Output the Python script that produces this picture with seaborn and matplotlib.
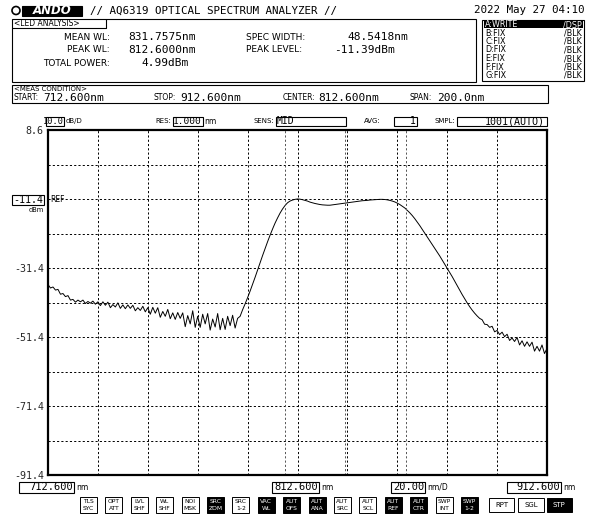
import numpy as np
import pandas as pd
import seaborn as sns
import matplotlib
matplotlib.use('Agg')
import matplotlib.pyplot as plt
from matplotlib.patches import Rectangle, Circle

# Sweep settings of the analyzer
START_WL = 712.6
STOP_WL = 912.6

# Trace A at ~1 nm steps (dBm)
levels = [
    -36.2, -37.2, -36.9, -37.8, -37.6, -39.0, -38.8, -39.7, -39.4, -40.7,
    -40.5, -41.3, -40.7, -41.2, -40.7, -41.7, -41.1, -41.6, -41.0, -41.9,
    -41.2, -42.3, -41.2, -42.2, -41.3, -42.9, -42.0, -42.7, -41.5, -43.1,
    -42.1, -43.2, -42.1, -43.1, -42.2, -43.8, -42.9, -43.7, -42.5, -44.1,
    -42.9, -44.8, -42.8, -44.5, -42.9, -45.7, -44.0, -45.4, -43.4, -46.1,
    -44.4, -46.3, -44.3, -46.0, -44.4, -48.4, -45.2, -47.6, -43.8, -48.6,
    -45.4, -48.6, -44.8, -47.6, -44.6, -49.4, -46.2, -48.5, -44.6, -49.3,
    -46.0, -49.2, -45.4, -48.1, -45.1, -48.8, -46.0, -45.4, -43.5, -41.8,
    -40.0, -38.1, -36.1, -34.1, -32.0, -29.9, -27.8, -25.8, -23.8, -21.9,
    -20.1, -18.4, -16.9, -15.5, -14.3, -13.3, -12.5, -12.0, -11.7, -11.5,
    -11.39, -11.45, -11.6, -11.8, -12.0, -12.3, -12.5, -12.7, -12.85, -13.0,
    -13.1, -13.15, -13.2, -13.2, -13.1, -13.0, -12.9, -12.8, -12.7, -12.6,
    -12.5, -12.4, -12.3, -12.2, -12.1, -12.0, -11.9, -11.85, -11.8, -11.7,
    -11.65, -11.6, -11.55, -11.5, -11.5, -11.55, -11.65, -11.8, -12.0, -12.25,
    -12.6, -13.0, -13.5, -14.0, -14.7, -15.4, -16.2, -17.1, -18.1, -19.1,
    -20.2, -21.3, -22.4, -23.5, -24.6, -25.7, -26.8, -27.9, -29.1, -30.3,
    -31.5, -32.7, -33.9, -35.2, -36.5, -37.8, -39.1, -40.3, -41.5, -42.6,
    -43.6, -44.5, -45.3, -46.0, -46.4, -47.7, -47.8, -48.6, -48.3, -49.9,
    -49.5, -50.7, -50.0, -51.3, -50.6, -52.4, -51.7, -52.7, -51.5, -53.7,
    -52.5, -54.1, -52.8, -54.1, -52.9, -55.5, -54.1, -55.5, -53.7, -56.2,
    -54.7,
]
wavelengths = np.linspace(START_WL, STOP_WL, len(levels))

# LED analysis markers: mean WL and mean +/- half spectral width
marker_wl = [807.49, 831.76, 856.03]

x_grid = [712.6, 732.6, 752.6, 772.6, 792.6, 812.6, 832.6, 852.6, 872.6, 892.6, 912.6]
y_grid = [8.6, -1.4, -11.4, -21.4, -31.4, -41.4, -51.4, -61.4, -71.4, -81.4, -91.4]
y_labels = ['8.6', '', '', '', '-31.4', '', '-51.4', '', '-71.4', '', '-91.4']

analysis_labels = ['MEAN WL:', 'PEAK WL:', 'TOTAL POWER:']
analysis_values = ['831.7575nm', '812.6000nm', '4.99dBm']
width_labels = ['SPEC WIDTH:', 'PEAK LEVEL:']
width_values = ['48.5418nm', '-11.39dBm']

trace_names = ['A:WRITE', 'B:FIX', 'C:FIX', 'D:FIX', 'E:FIX', 'F:FIX', 'G:FIX']
trace_modes = ['/DSP', '/BLK', '/BLK', '/BLK', '/BLK', '/BLK', '/BLK']

soft_keys = [('TLS', 'SYC'), ('OPT', 'ATT'), ('LVL', 'SHF'), ('WL', 'SHF'), ('NOI', 'MSK'),
             ('SRC', 'ZOM'), ('SRC', '1-2'), ('VAC', 'WL'), ('AUT', 'OFS'), ('AUT', 'ANA'),
             ('AUT', 'SRC'), ('AUT', 'SCL'), ('AUT', 'REF'), ('AUT', 'CTR'), ('SWP', 'INT'),
             ('SWP', '1-2')]
soft_on = [False, False, False, False, False, True, False, True, True, True,
           False, False, True, True, False, True]

MONO = 'DejaVu Sans Mono'
SANS = 'DejaVu Sans'
W, H = 612, 523

sns.set_theme(style='white')
plt.rcParams['font.family'] = [SANS]

fig = plt.figure(figsize=(W / 100, H / 100), dpi=100)
fig.patch.set_facecolor('white')

# plot area in screen pixels
L, R, T, B = 48, 547, 130, 475
ax = fig.add_axes([L / W, 1 - B / H, (R - L) / W, (B - T) / H])
df = pd.DataFrame({'wl': wavelengths, 'dbm': levels})
sns.lineplot(data=df, x='wl', y='dbm', ax=ax, color='black', lw=0.7, sort=False)
ax.set_xlim(START_WL, STOP_WL)
ax.set_ylim(y_grid[-1], y_grid[0])
ax.set_xticks(x_grid)
ax.set_yticks(y_grid)
ax.set_xticklabels([])
ax.set_yticklabels(y_labels, family=MONO, fontsize=7.2)
ax.tick_params(length=0, pad=3)
ax.set_xlabel('')
ax.set_ylabel('')
ax.grid(True, color='black', ls=(0, (2.2, 2.2)), lw=0.7)
for wl in marker_wl:
    ax.axvline(wl, color='#555555', ls=(0, (2.2, 2.2)), lw=0.7)
for s in ax.spines.values():
    s.set_color('black')
    s.set_linewidth(1.6)

# overlay in screen pixels for the instrument panels
ov = fig.add_axes([0, 0, 1, 1], zorder=5)
ov.set_xlim(0, W)
ov.set_ylim(H, 0)
ov.axis('off')
ov.patch.set_alpha(0)


def box(x0, y0, x1, y1, face='white', lw=0.8):
    ov.add_patch(Rectangle((x0, y0), x1 - x0, y1 - y0, facecolor=face, edgecolor='black', lw=lw))


def txt(x, y, s, ha='left', size=6.5, family=SANS, color='black', **kw):
    ov.text(x, y, s, ha=ha, va='center', fontsize=size, family=family, color=color, **kw)


# header
ov.add_patch(Circle((16, 10.5), 4, facecolor='white', edgecolor='black', lw=1.2))
box(22, 5.5, 82, 15.5, face='black', lw=0.8)
txt(52, 10.7, 'ANDO', ha='center', size=8.5, color='white', weight='bold', style='italic')
txt(90, 11, '// AQ6319 OPTICAL SPECTRUM ANALYZER //', size=7.8, family=MONO)
txt(585, 10, '2022 May 27 04:10', ha='right', size=7.8, family=MONO)

# LED analysis panel
box(12, 19, 476, 82)
ov.plot([12, 106, 106], [28, 28, 19], color='black', lw=0.8)
txt(14, 23.5, '<LED ANALYSIS>', size=5.5)
for k, (lab, val) in enumerate(zip(analysis_labels, analysis_values)):
    y = 37 + 13 * k
    txt(110, y, lab, ha='right')
    txt(141 if k == 2 else 128, y, val, size=8, family=MONO)
for k, (lab, val) in enumerate(zip(width_labels, width_values)):
    y = 37 + 13 * k
    txt(246, y, lab)
    txt(347 if k == 0 else 334, y, val, size=8, family=MONO)

# trace list
box(482, 20, 584, 81)
box(483.5, 20.8, 582.5, 28.3, face='black', lw=0)
for k, (nm, md) in enumerate(zip(trace_names, trace_modes)):
    y = 24.5 + 8.5 * k
    c = 'white' if k == 0 else 'black'
    txt(485, y, nm, size=5.8, color=c)
    txt(582, y, md, ha='right', size=5.8, color=c)

# measurement condition panel
box(12, 85, 548, 103)
txt(14, 88.8, '<MEAS CONDITION>', size=5)
txt(13, 98, 'START:', size=5.5)
txt(43, 97.6, '712.600nm', size=8, family=MONO)
txt(153, 98, 'STOP:', size=5.5)
txt(180, 97.6, '912.600nm', size=8, family=MONO)
txt(283, 98, 'CENTER:', size=5.5)
txt(318, 97.6, '812.600nm', size=8, family=MONO)
txt(410, 98, 'SPAN:', size=5.5)
txt(437, 97.6, '200.0nm', size=8, family=MONO)

# settings row
yr = 121
box(46, 116.5, 64, 125.5)
txt(63.5, yr, '10.0', ha='right', size=6.2, family=MONO)
txt(65.5, yr, 'dB/D', size=5)
box(172.5, 116.5, 202.5, 125.5)
txt(171.5, yr, 'RES:', ha='right', size=5)
txt(202, yr, '1.000', ha='right', size=6.8, family=MONO)
txt(204, yr, 'nm', size=5.5)
box(275.5, 116.5, 346, 125.5)
txt(274.5, yr, 'SENS:', ha='right', size=5)
txt(277, yr, 'MID', size=7, family=MONO)
box(393.5, 116.5, 417, 125.5)
txt(381, yr, 'AVG:', ha='right', size=5)
txt(416, yr, '1', ha='right', size=7, family=MONO)
box(456.5, 116.5, 546.5, 125.5)
txt(455.5, yr, 'SMPL:', ha='right', size=5)
txt(545, yr, '1001(AUTO)', ha='right', size=7.2, family=MONO)

# reference level box
box(12, 194.5, 43.5, 205)
txt(43, 199.7, '-11.4', ha='right', size=7.2, family=MONO)
txt(43.5, 209.5, 'dBm', ha='right', size=4.8)
txt(50, 199.3, 'REF', size=5.5)

# bottom wavelength readouts
yb = 487.5
box(18.5, 482, 74, 493)
txt(73.5, yb, '712.600', ha='right', size=7.5, family=MONO)
txt(76, yb, 'nm', size=5.5)
box(271.5, 482, 319, 493)
txt(318.5, yb, '812.600', ha='right', size=7.5, family=MONO)
txt(321, yb, 'nm', size=5.5)
box(390.5, 482, 425, 493)
txt(424.5, yb, '20.00', ha='right', size=7.5, family=MONO)
txt(427, yb, 'nm/D', size=5.5)
box(506.5, 482, 561, 493)
txt(560.5, yb, '912.600', ha='right', size=7.5, family=MONO)
txt(563, yb, 'nm', size=5.5)

# soft keys
for k, ((a, b), on) in enumerate(zip(soft_keys, soft_on)):
    x0 = 80 + 25.4 * k
    box(x0, 497, x0 + 17, 513, face='black' if on else 'white', lw=0.7)
    c = 'white' if on else 'black'
    txt(x0 + 8.5, 501.3, a, ha='center', size=4.3, color=c)
    txt(x0 + 8.5, 508.7, b, ha='center', size=4.3, color=c)
for (x0, x1, lab, on) in [(489, 514, 'RPT', False), (518, 544, 'SGL', False), (546.5, 572, 'STP', True)]:
    box(x0, 498, x1, 512, face='black' if on else 'white', lw=0.7)
    txt((x0 + x1) / 2, 505, lab, ha='center', size=5, color='white' if on else 'black')

fig.savefig('out.png', dpi=100)
